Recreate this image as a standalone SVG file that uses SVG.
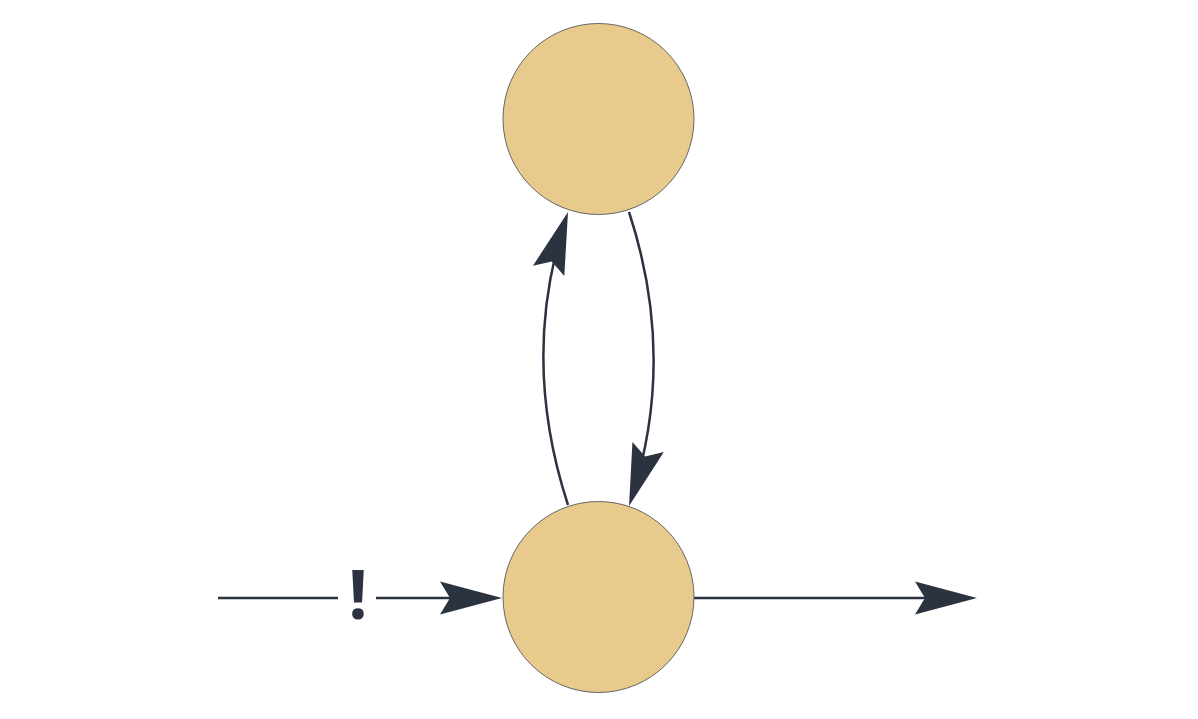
<svg xmlns="http://www.w3.org/2000/svg" width="1198" height="719" viewBox="0 0 1198 719">
<style>
.node{fill:#E8CA8C;stroke:#666666;stroke-width:1}
.edge{fill:none;stroke:#2B3240;stroke-width:2.5;stroke-linecap:butt}
.lbl{font-family:"Open Sans","Liberation Sans",Arial,sans-serif;font-weight:bold;font-size:68px;fill:#2B3240;text-anchor:middle}
</style>
<defs>
<marker id="arr" markerUnits="userSpaceOnUse" viewBox="-70 -18 72 36" markerWidth="72" markerHeight="36" refX="-8" refY="0" orient="auto">
<path d="M0,0 L-62,-16.5 L-52,0 L-62,16.5 Z" fill="#2B3240"/>
</marker>
</defs>
<rect width="1198" height="719" fill="#ffffff"/>
<g id="connectors">
<path class="edge" d="M218,598 L338,598"/>
<path class="edge" d="M376,598 L494,598" marker-end="url(#arr)"/>
<path class="edge" d="M694,598 L969,598" marker-end="url(#arr)"/>
<path class="edge" d="M568,505 Q520,358 565.5,219.6" marker-end="url(#arr)"/>
<path class="edge" d="M629,212 Q677,358 631.5,498.4" marker-end="url(#arr)"/>
<text class="lbl" x="358" y="619">!</text>
</g>
<g id="node-top">
<circle class="node" cx="598.5" cy="119" r="95.5"/>
</g>
<g id="node-bottom">
<circle class="node" cx="598.5" cy="597" r="95.5"/>
</g>
</svg>
